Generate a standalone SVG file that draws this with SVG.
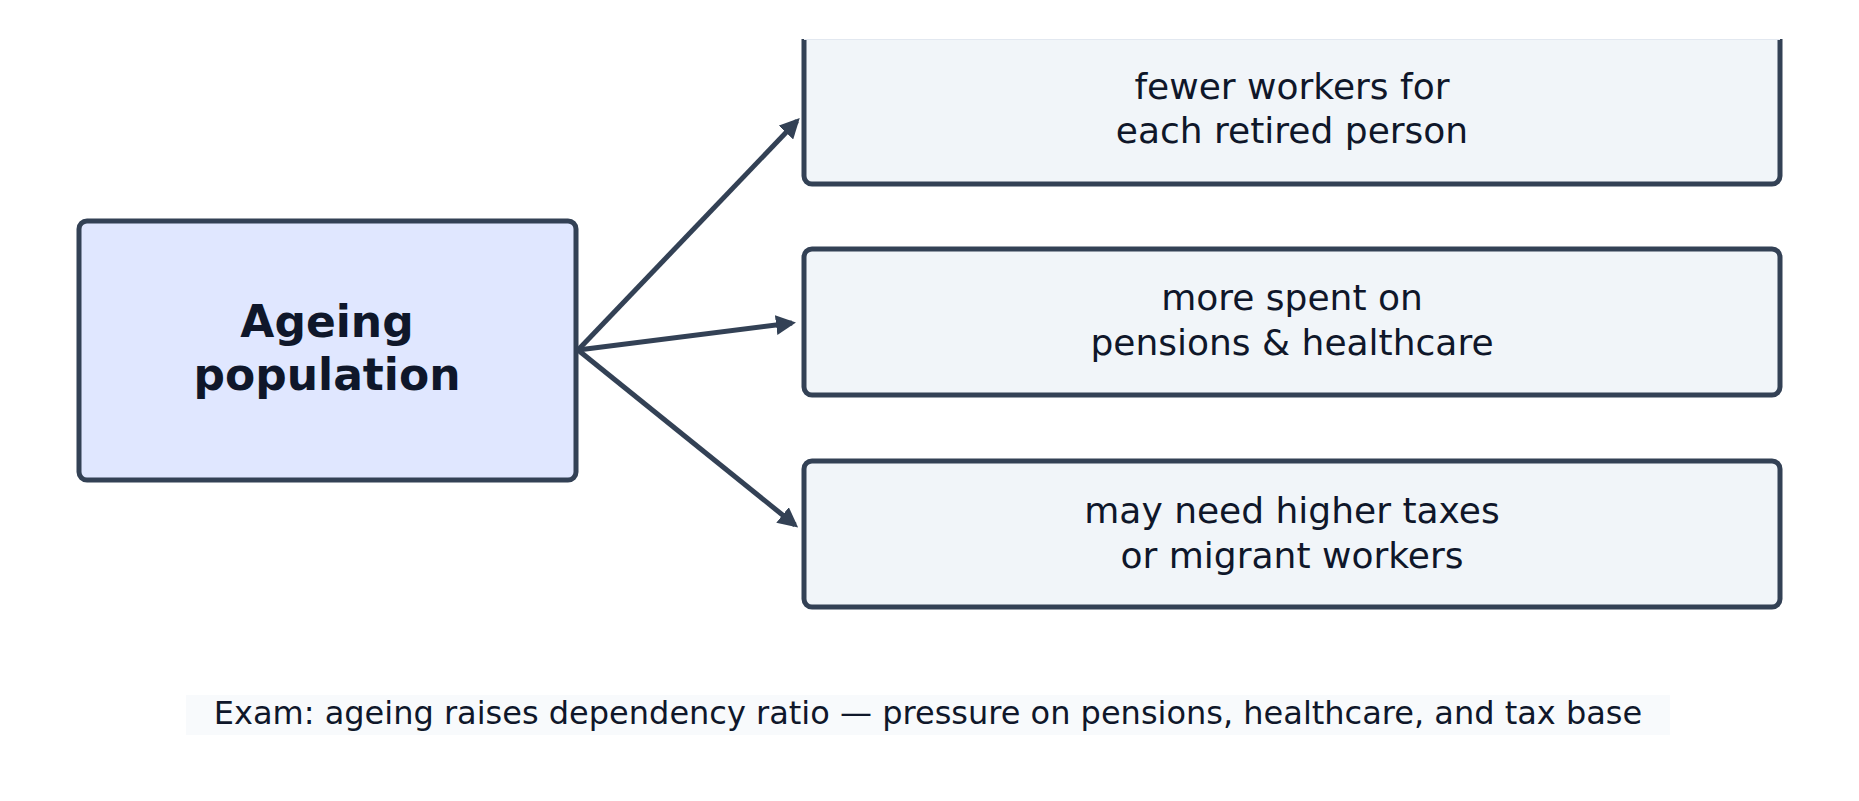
<svg xmlns="http://www.w3.org/2000/svg" width="1859" height="801" viewBox="0 0 1859 801">
<style>
.box{stroke:#334155;stroke-width:5}
.t{font-family:"DejaVu Sans",sans-serif;fill:#0f172a;text-anchor:middle}
.n{font-size:36px}
.c{stroke:#334155;stroke-width:5;fill:none;marker-end:url(#ah)}
</style>
<defs>
<marker id="ah" viewBox="0 0 10 10" refX="8" refY="5" markerWidth="4" markerHeight="4" orient="auto" markerUnits="strokeWidth"><path d="M0,0 L10,5 L0,10 z" fill="#334155"/></marker>
<clipPath id="cp"><rect x="0" y="39" width="1859" height="762"/></clipPath>
</defs>
<rect width="1859" height="801" fill="#fff"/>
<g id="connectors">
<line class="c" x1="578" y1="350" x2="797" y2="121"/>
<line class="c" x1="578" y1="350" x2="792" y2="323"/>
<line class="c" x1="578" y1="350" x2="795" y2="525"/>
</g>
<g id="ageing">
<rect class="box" x="79" y="221" width="497" height="259" rx="8" fill="#e0e7ff"/>
<text class="t" x="327" y="337" font-size="44" font-weight="bold">Ageing</text>
<text class="t" x="327" y="390" font-size="44" font-weight="bold">population</text>
</g>
<g id="fewer">
<rect class="box" x="804" y="20" width="976" height="164" rx="8" fill="#f1f5f9" clip-path="url(#cp)"/>
<line x1="804" y1="39.5" x2="1780" y2="39.5" stroke="#e2e8f0" stroke-width="1"/>
<text class="t n" x="1292" y="99">fewer workers for</text>
<text class="t n" x="1292" y="143">each retired person</text>
</g>
<g id="spent">
<rect class="box" x="804" y="249" width="976" height="146" rx="8" fill="#f1f5f9"/>
<text class="t n" x="1292" y="310">more spent on</text>
<text class="t n" x="1292" y="355">pensions &amp; healthcare</text>
</g>
<g id="taxes">
<rect class="box" x="804" y="461" width="976" height="146" rx="8" fill="#f1f5f9"/>
<text class="t n" x="1292" y="523">may need higher taxes</text>
<text class="t n" x="1292" y="568">or migrant workers</text>
</g>
<g id="caption">
<rect x="186" y="695" width="1484" height="40" fill="#f8fafc"/>
<text class="t" x="928" y="724" font-size="32">Exam: ageing raises dependency ratio — pressure on pensions, healthcare, and tax base</text>
</g>
</svg>
